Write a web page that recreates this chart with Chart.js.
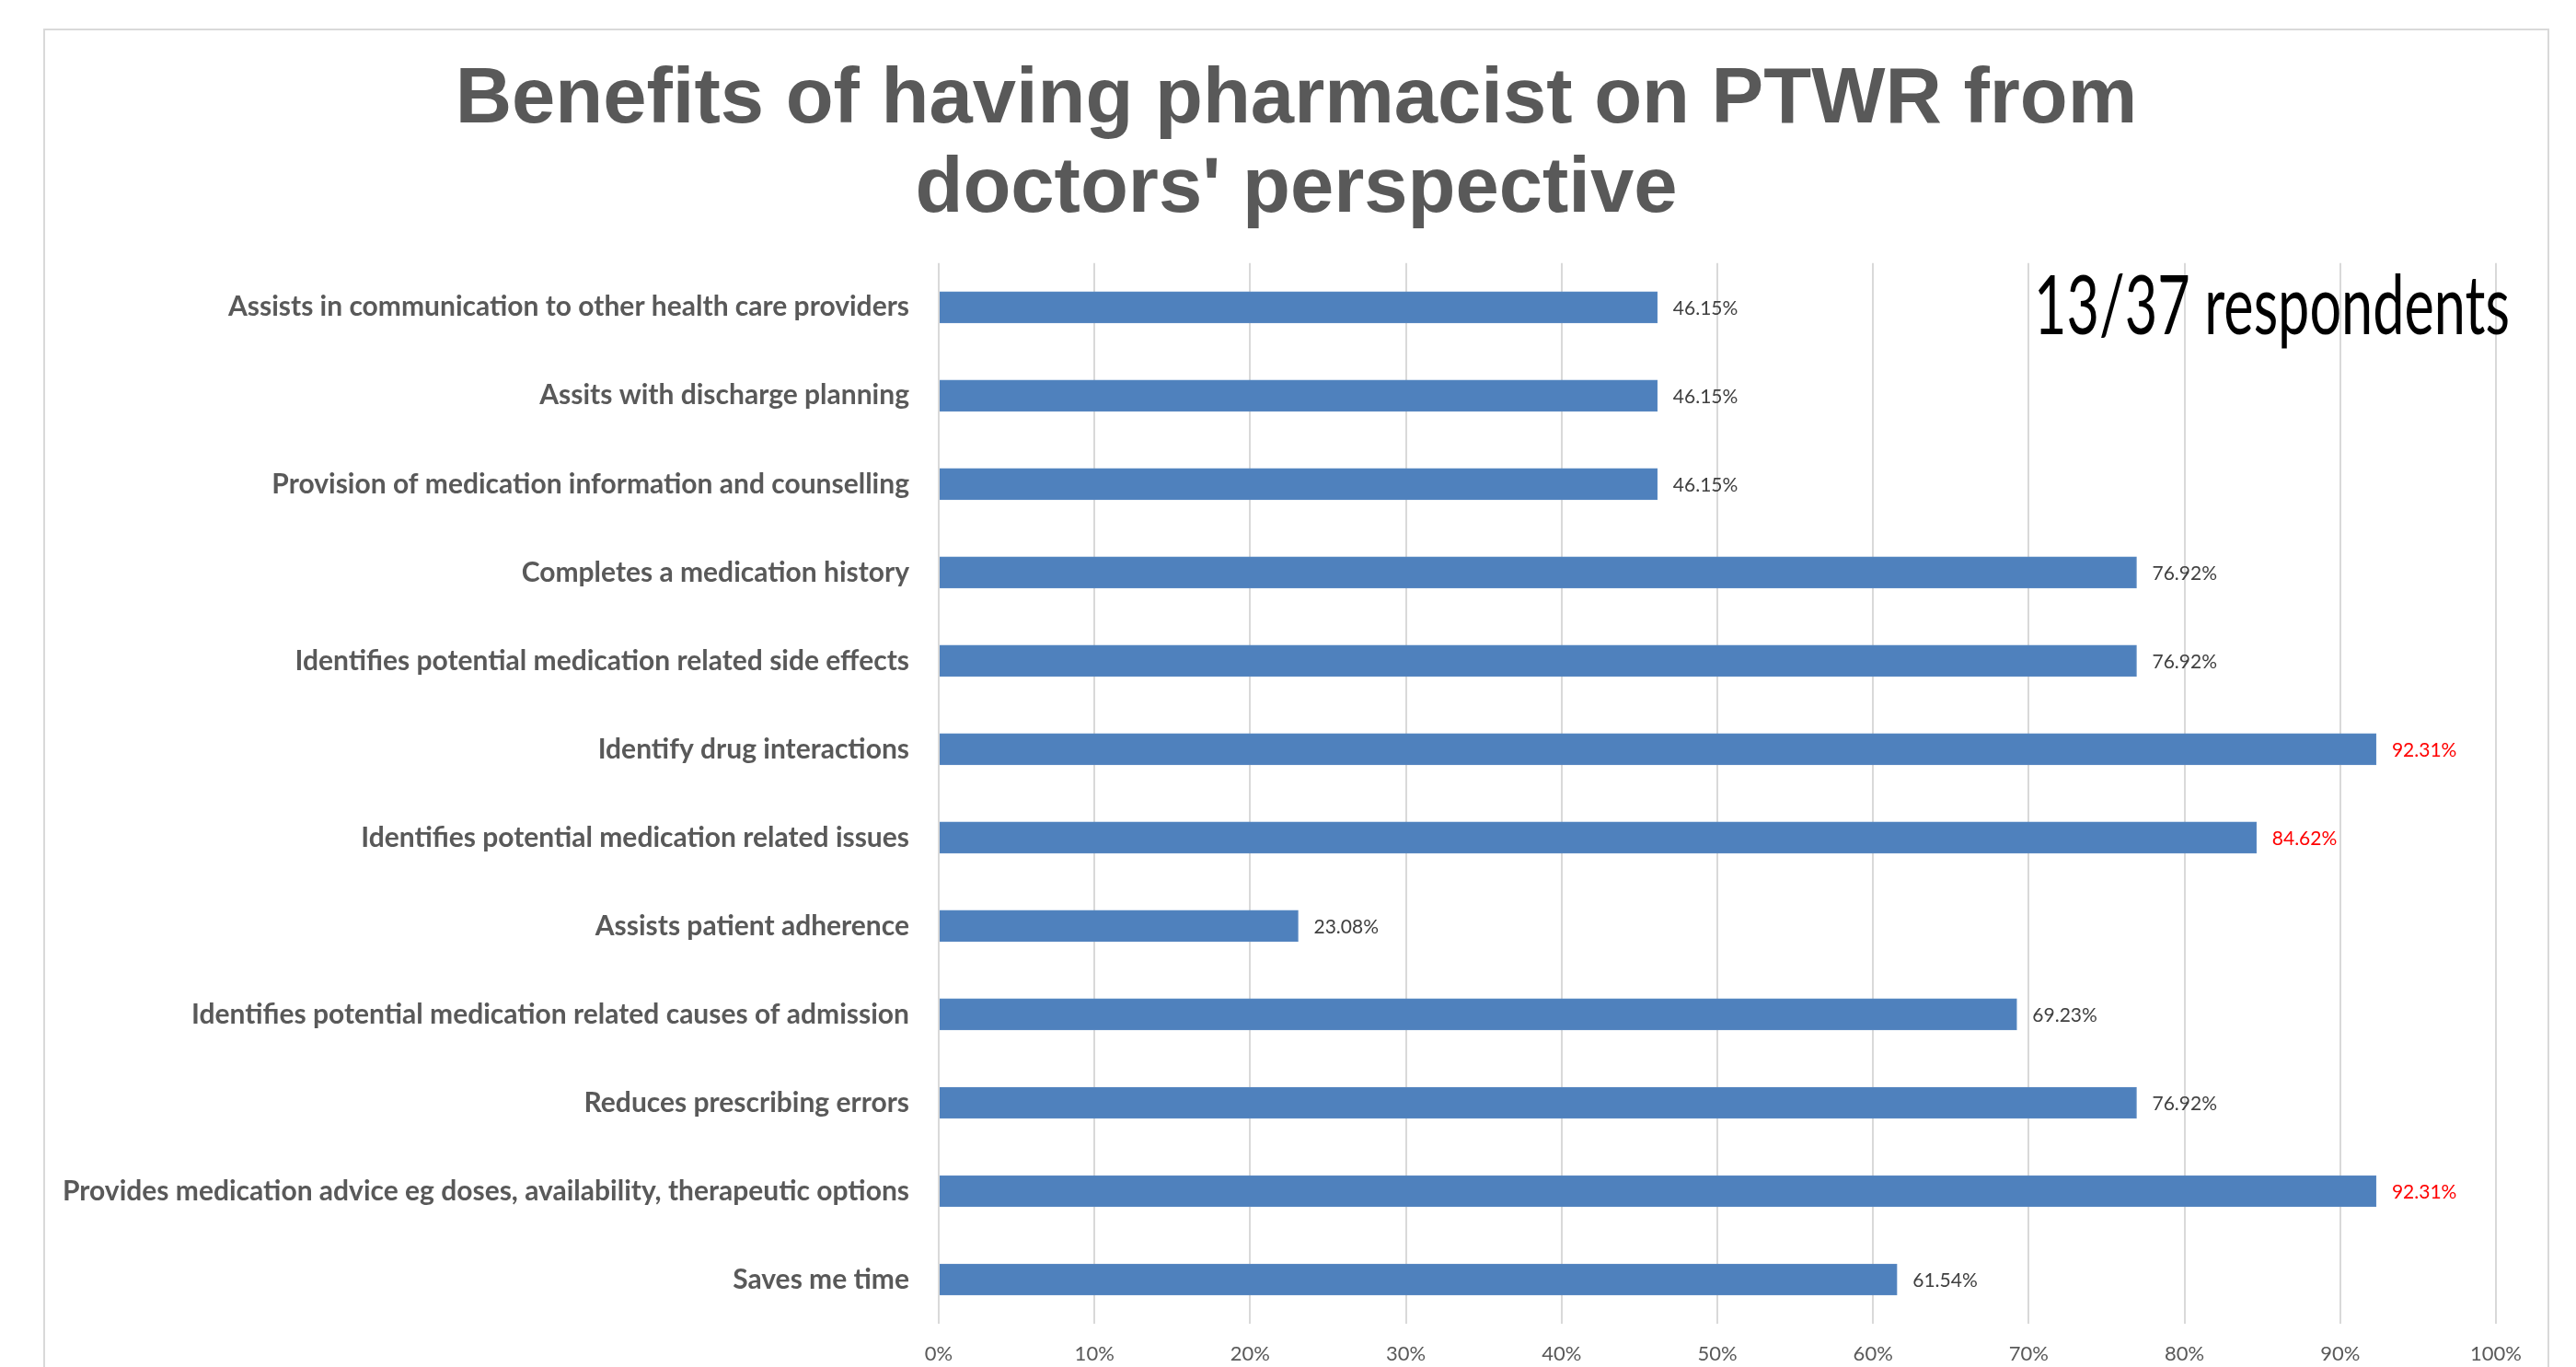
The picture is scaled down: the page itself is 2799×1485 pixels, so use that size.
<!DOCTYPE html>
<html>
<head>
<meta charset="utf-8">
<title>Benefits of having pharmacist on PTWR</title>
<script src="https://cdn.jsdelivr.net/npm/chart.js@4/dist/chart.umd.min.js"></script>
<style>
	html, body {
		margin: 0;
		padding: 0;
		background: #ffffff;
		overflow: hidden;
		width: 2799px;
		height: 1485px;
	}
	.ptwr-chart-card {
		position: absolute;
		left: 47px;
		top: 31px;
		width: 2723px;
		height: 1520px;
		border: 2px solid #d9d9d9;
		box-sizing: border-box;
		background: #ffffff;
	}
	.ptwr-chart-card canvas {
		display: block;
	}
</style>
</head>
<body>
<div class="ptwr-chart-card" id="ptwr-chart-card">
	<canvas id="ptwr-chart-canvas"></canvas>
</div>
<script>
	'use strict';

	// Chart data (top to bottom as shown)
	var categories = [
		'Assists in communication to other health care providers',
		'Assits with discharge planning',
		'Provision of medication information and counselling',
		'Completes a medication history',
		'Identifies potential medication related side effects',
		'Identify drug interactions',
		'Identifies potential medication related issues',
		'Assists patient adherence',
		'Identifies potential medication related causes of admission',
		'Reduces prescribing errors',
		'Provides medication advice eg doses, availability, therapeutic options',
		'Saves me time'
	];
	var percentValues = [46.15, 46.15, 46.15, 76.92, 76.92, 92.31, 84.62, 23.08, 69.23, 76.92, 92.31, 61.54];
	var xTicks = [0, 10, 20, 30, 40, 50, 60, 70, 80, 90, 100];
	var titleLines = ['Benefits of having pharmacist on PTWR from', 'doctors\' perspective'];
	var respondentsNote = '13/37 respondents';
	var highlightAbove = 80;

	var labelFont = "Lato, 'DejaVu Sans Condensed', sans-serif";
	var titleFont = "'Liberation Sans', Arial, sans-serif";

	// Draw the value labels at the end of each bar
	var barValueLabels = {
		id: 'barValueLabels',
		afterDatasetsDraw: function(chart) {
			var ctx = chart.ctx;
			var meta = chart.getDatasetMeta(0);
			ctx.save();
			ctx.font = '21px ' + labelFont;
			ctx.textAlign = 'left';
			ctx.textBaseline = 'middle';
			meta.data.forEach(function(bar, i) {
				var val = chart.data.datasets[0].data[i];
				ctx.fillStyle = val > highlightAbove ? '#ff0000' : '#404040';
				ctx.fillText(val.toFixed(2) + '%', bar.x + 17, bar.y + 1);
			});
			ctx.restore();
		}
	};

	// "13/37 respondents" note in the top right corner of the plot
	var respondentsLabel = {
		id: 'respondentsLabel',
		afterDraw: function(chart) {
			var ctx = chart.ctx;
			var area = chart.chartArea;
			var targetWidth = 517;
			ctx.save();
			ctx.font = '90px ' + labelFont;
			ctx.fillStyle = '#000000';
			ctx.textBaseline = 'alphabetic';
			var w = ctx.measureText(respondentsNote).width;
			var sx = Math.min(1, targetWidth / w);
			ctx.translate(area.right - 502, area.top + 77);
			ctx.scale(sx, 1);
			ctx.fillText(respondentsNote, 0, 0);
			ctx.restore();
		}
	};

	var ctx = document.getElementById('ptwr-chart-canvas');

	var chartObject = new Chart(ctx, {
		type: 'bar',
		data: {
			labels: categories,
			datasets: [{
				label: 'Doctors',
				data: percentValues,
				backgroundColor: '#4f81bd',
				borderColor: '#5b8ac3',
				borderWidth: 1,
				barThickness: 34
			}]
		},
		options: {
			indexAxis: 'y',
			responsive: true,
			maintainAspectRatio: false,
			animation: false,
			devicePixelRatio: 1,
			layout: {
				padding: 0
			},
			plugins: {
				legend: { display: false },
				tooltip: { enabled: false },
				title: {
					display: true,
					text: titleLines,
					color: '#595959',
					font: { family: titleFont, size: 85, weight: 'bold', lineHeight: 1.14 },
					padding: { top: 28, bottom: 31 }
				}
			},
			scales: {
				x: {
					min: 0,
					max: 100,
					afterBuildTicks: function(scale) {
						scale.ticks = xTicks.map(function(v) { return { value: v }; });
					},
					afterFit: function(scale) {
						scale.height = 111;
						// keep room on the right of the plot, like the original
						scale.paddingRight = 56;
					},
					grid: {
						color: '#d9d9d9',
						lineWidth: 2,
						drawTicks: false
					},
					border: { display: false },
					ticks: {
						padding: 20,
						color: '#595959',
						font: { family: labelFont, size: 22 },
						callback: function(value) { return value + '%'; }
					}
				},
				y: {
					afterFit: function(scale) {
						scale.width = 971;
					},
					grid: { display: false, drawTicks: false },
					border: { display: false },
					ticks: {
						padding: 32,
						color: '#595959',
						font: { family: labelFont, size: 30, weight: 'bold' }
					}
				}
			}
		},
		plugins: [barValueLabels, respondentsLabel]
	});
</script>
</body>
</html>
